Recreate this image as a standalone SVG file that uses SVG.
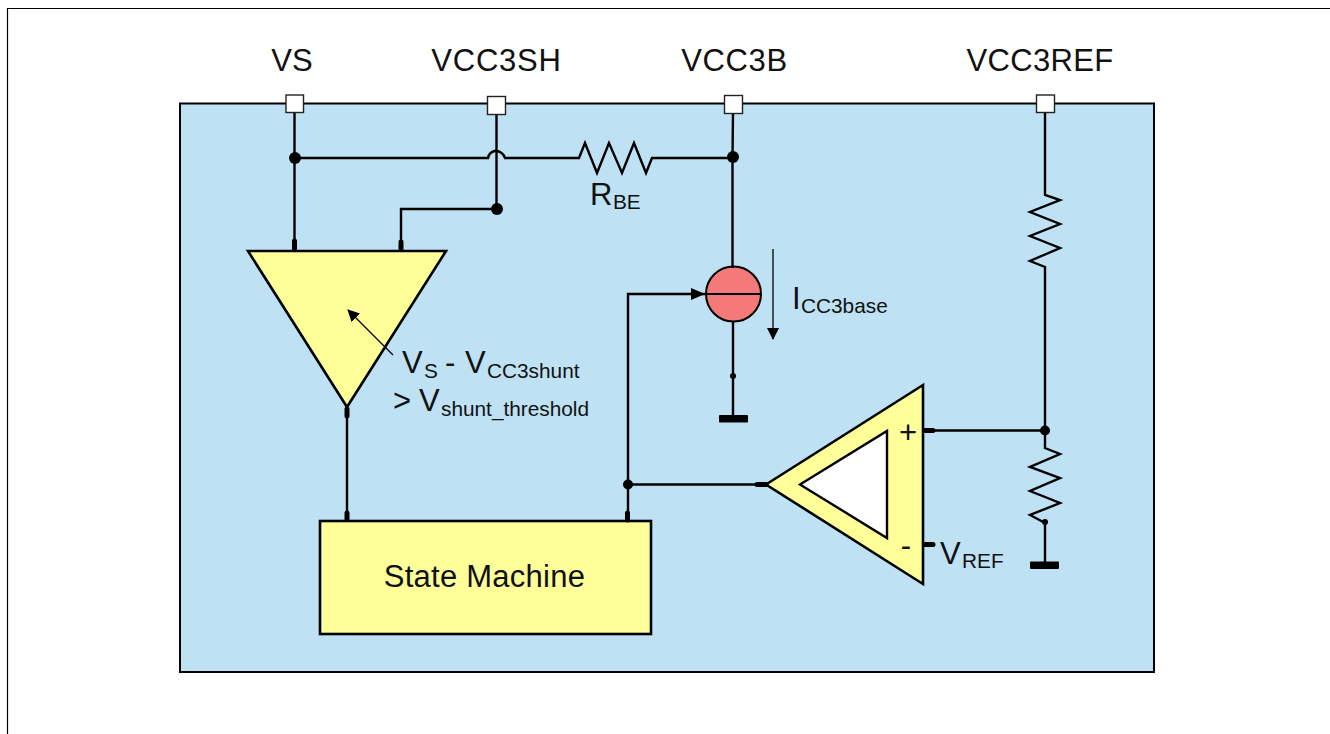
<svg xmlns="http://www.w3.org/2000/svg" width="1330" height="734" viewBox="0 0 1330 734">
<defs>
<style>
text{font-family:"Liberation Sans",Arial,sans-serif;fill:#111}
.l{font-size:31px}
.s{font-size:20.800px}
.w{fill:none;stroke:#000;stroke-width:2.4;stroke-linejoin:miter}
.t{fill:none;stroke:#000;stroke-width:1.3}
.pin{fill:#fff;stroke:#222;stroke-width:1.4}
.stub{stroke:#000;stroke-width:5;stroke-linecap:round;fill:none}
.gnd{fill:#000}
.yel{fill:#ffff99;stroke:#000;stroke-width:2.6}
</style>
<marker id="ah" viewBox="0 0 12 12" refX="11" refY="6" markerWidth="12" markerHeight="12" markerUnits="userSpaceOnUse" orient="auto"><path d="M0 0L12 6L0 12Z" fill="#000"/></marker>
</defs>
<path d="M7.500 734V8.500H1330" fill="none" stroke="#000" stroke-width="1.2"/>
<g id="chip"><rect x="180" y="103.500" width="974" height="568.500" fill="#bee1f3" stroke="#000" stroke-width="2"/></g>
<g id="comparator"><path class="yel" d="M248 251H446L347 407Z"/></g>
<g id="current-source"><circle cx="733.500" cy="294" r="27.500" fill="#f47a7a" stroke="#000" stroke-width="2"/><path d="M706 294H761" stroke="#000" stroke-width="2"/><text class="l" x="792" y="309">I<tspan class="s" x="801" y="313">CC3base</tspan></text></g>
<g id="opamp"><path class="yel" d="M766 484.500L923 385V584Z"/><path d="M800 484.500L887 431V538Z" fill="#fff" stroke="#000" stroke-width="2.400"/><text class="l" x="908" y="443" text-anchor="middle">+</text><text class="l" x="906" y="556" text-anchor="middle">-</text><text class="l" x="940" y="564">V<tspan class="s" x="962" y="568">REF</tspan></text></g>
<g id="state-machine"><rect class="yel" x="320" y="521" width="331" height="113"/><text class="l" x="484.500" y="587" text-anchor="middle" letter-spacing=".25">State Machine</text></g>
<g id="connectors">
<path class="w" d="M294.500 113V248M294.500 158H488Q489 152 496 150.500Q503 152 505 158H579L585 143L597 173L609 143L622 173L634 143L646 173L652 158H733M496.500 114V209M496.500 209H401V248M733 113L732.500 157V268M733 322V418"/>
<path class="w" d="M1045 111V195L1060 200L1030 212L1060 224L1030 236L1060 248L1030 261L1045 267V448L1060 454L1030 467L1060 478L1030 491L1060 503L1030 515L1045 523V565M923 430.500H1045M347 408V518M628 517V294H705M628 484.500H766"/>
<path class="stub" d="M294.500 241V249M401 242V249M347 409V416M347 513V519M627.500 513V520M925 430.500H933M757 484.500H766M925 544.500H933"/>
<circle cx="295" cy="158" r="6"/><circle cx="733" cy="157" r="6"/><circle cx="497" cy="209" r="6"/><circle cx="1045" cy="430.500" r="5"/><circle cx="628" cy="484.500" r="5"/><circle cx="733" cy="376" r="3"/><circle cx="1045" cy="522" r="3"/>
<path d="M691 288L705 294L691 300Z"/>
<path class="t" d="M773 249V339" marker-end="url(#ah)"/>
<path class="t" d="M393 355L348 310" marker-end="url(#ah)"/>
</g>
<g id="gnd1"><rect class="gnd" x="719" y="415" width="29" height="7.500" rx="1"/></g>
<g id="gnd2"><rect class="gnd" x="1030" y="561.500" width="29" height="7.500" rx="1"/></g>
<g id="pin-vs"><rect class="pin" x="286" y="95" width="17.500" height="17.500"/><text class="l" x="292" y="71" text-anchor="middle">VS</text></g>
<g id="pin-vcc3sh"><rect class="pin" x="487.500" y="96.500" width="18" height="18"/><text class="l" x="496.500" y="71" text-anchor="middle" letter-spacing=".8">VCC3SH</text></g>
<g id="pin-vcc3b"><rect class="pin" x="724.500" y="95.500" width="18" height="18"/><text class="l" x="734.500" y="71" text-anchor="middle" letter-spacing=".6">VCC3B</text></g>
<g id="pin-vcc3ref"><rect class="pin" x="1036.500" y="95" width="18" height="17.500"/><text class="l" x="1040" y="71" text-anchor="middle" letter-spacing=".3">VCC3REF</text></g>
<g id="rbe"><text class="l" x="590" y="205">R<tspan class="s" x="613" y="209">BE</tspan></text></g>
<g id="shunt-label"><text class="l" x="402" y="373">V<tspan class="s" x="424" y="378">S</tspan><tspan x="445" y="373">-</tspan><tspan x="465" y="373">V</tspan><tspan class="s" x="487" y="378">CC3shunt</tspan></text><text class="l" x="393" y="411">&gt;<tspan x="419" y="411">V</tspan><tspan class="s" x="441" y="416">shunt_threshold</tspan></text></g>
</svg>
